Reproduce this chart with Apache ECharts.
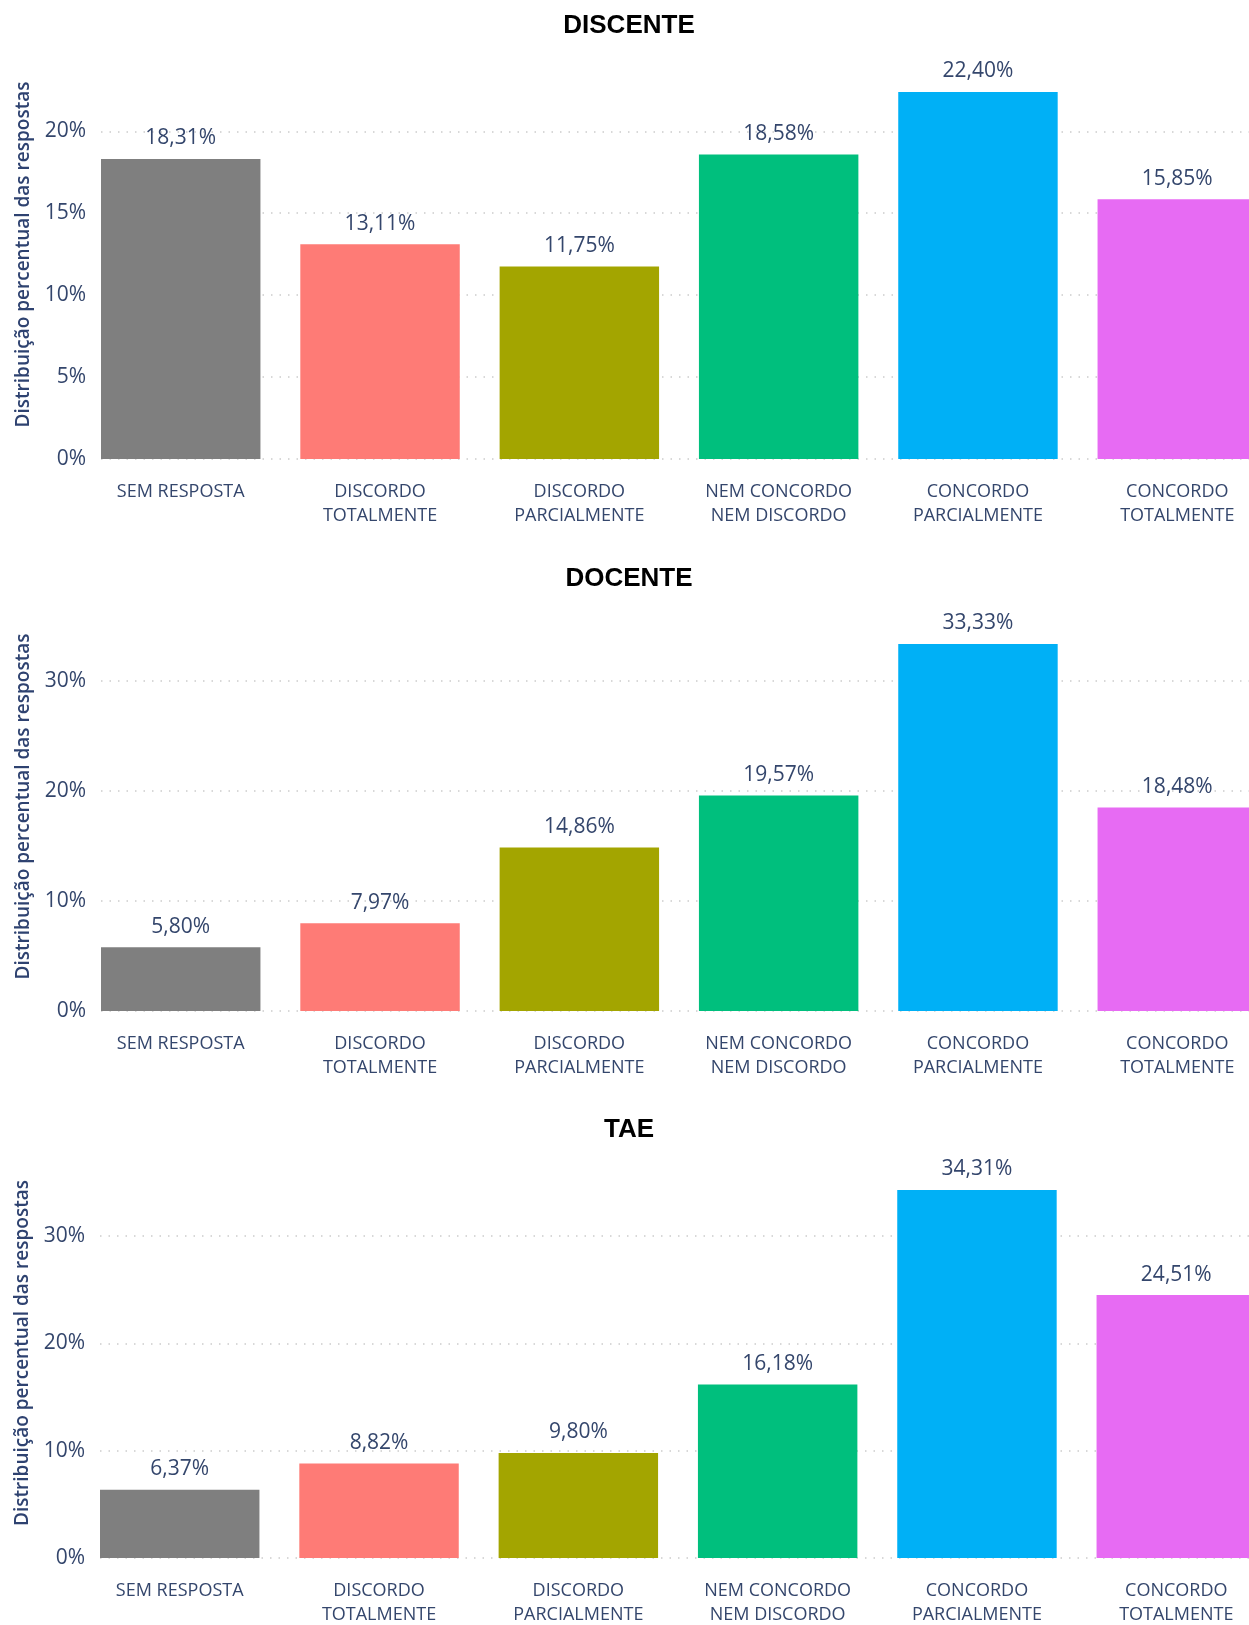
<!DOCTYPE html>
<html>
<head>
<meta charset="utf-8">
<script src="https://cdn.jsdelivr.net/npm/echarts@6/dist/echarts.min.js"></script>
<style>
  html, body { margin: 0; padding: 0; background: #fff; }
  #chart { width: 1249px; height: 1625px; }
</style>
</head>
<body>
<div id="chart"></div>
<script>
// categorias (eixo x)
var categorias = ['SEM RESPOSTA', 'DISCORDO\nTOTALMENTE', 'DISCORDO\nPARCIALMENTE',
  'NEM CONCORDO\nNEM DISCORDO', 'CONCORDO\nPARCIALMENTE', 'CONCORDO\nTOTALMENTE']
var cores = ['#7f7f7f', '#fe7b76', '#a3a500', '#00bf7d', '#00b0f6', '#e76bf3']

// valores (%) de cada grupo
var discente = [18.31, 13.11, 11.75, 18.58, 22.40, 15.85]
var docente = [5.80, 7.97, 14.86, 19.57, 33.33, 18.48]
var tae = [6.37, 8.82, 9.80, 16.18, 34.31, 24.51]

var titulos = ['DISCENTE', 'DOCENTE', 'TAE']
var intervalos = [5, 10, 10]
var nomeEixoY = 'Distribuição percentual das respostas'

var fonte = '"Segoe UI", "Open Sans", sans-serif'
var corTexto = '#34466c'

// posicoes dos tres graficos (px) - a ultima barra passa da borda direita
var grids = [
  {left: 101, width: 1156, top: 92, height: 367, outerBoundsMode: 'none'},
  {left: 101, width: 1156, top: 644, height: 367, outerBoundsMode: 'none'},
  {left: 100, width: 1156, top: 1190, height: 368, outerBoundsMode: 'none'}
]
var titulosY = [26, 579, 1130]

var dados = [discente, docente, tae]

var myChart = echarts.init(document.getElementById('chart'))

var option = {
  animation: false,
  backgroundColor: '#fff',
  title: [],
  grid: grids,
  xAxis: [],
  yAxis: [],
  series: []
}

for (let i = 0; i < 3; i++) {
  option.title.push({
    text: titulos[i],
    left: 629,
    top: titulosY[i],
    padding: 0,
    textAlign: 'center',
    textVerticalAlign: 'middle',
    textStyle: {
      fontFamily: '"Liberation Sans", Arial, sans-serif',
      fontWeight: 'bold',
      fontSize: 26,
      color: '#000'
    }
  })
  option.xAxis.push({
    type: 'value',
    gridIndex: i,
    min: -0.4,
    max: 5.4,
    axisLine: {show: false},
    axisTick: {show: false},
    splitLine: {show: false},
    axisLabel: {
      customValues: [0, 1, 2, 3, 4, 5],
      formatter: function (v) {
        return categorias[Math.round(v)]
      },
      margin: 21,
      fontFamily: fonte,
      fontSize: 18,
      lineHeight: 24,
      color: corTexto
    }
  })
  option.yAxis.push({
    type: 'value',
    gridIndex: i,
    min: 0,
    max: 'dataMax',
    interval: intervalos[i],
    name: nomeEixoY,
    nameLocation: 'middle',
    nameRotate: 90,
    nameGap: 68,
    nameTextStyle: {
      fontFamily: fonte,
      fontSize: 19,
      fontWeight: 600,
      color: '#2e4270',
      padding: [0, 0, 0, 42]
    },
    axisLine: {show: false},
    axisTick: {show: false},
    axisLabel: {
      formatter: '{value}%',
      showMaxLabel: false,
      margin: 15,
      fontFamily: fonte,
      fontSize: 21,
      color: corTexto
    },
    splitLine: {
      show: true,
      showMaxLine: false,
      lineStyle: {color: '#cccccc', width: 1.5, type: [1.5, 7]}
    }
  })
  option.series.push({
    type: 'bar',
    xAxisIndex: i,
    yAxisIndex: i,
    barWidth: '80%',
    data: dados[i].map(function (v, k) { return [k, v] }),
    itemStyle: {
      color: function (p) { return cores[p.dataIndex] }
    },
    label: {
      show: true,
      position: 'top',
      distance: 10,
      fontFamily: fonte,
      fontSize: 21,
      color: corTexto,
      formatter: function (p) {
        return p.value[1].toFixed(2).replace('.', ',') + '%'
      }
    }
  })
}

myChart.setOption(option)
</script>
</body>
</html>
